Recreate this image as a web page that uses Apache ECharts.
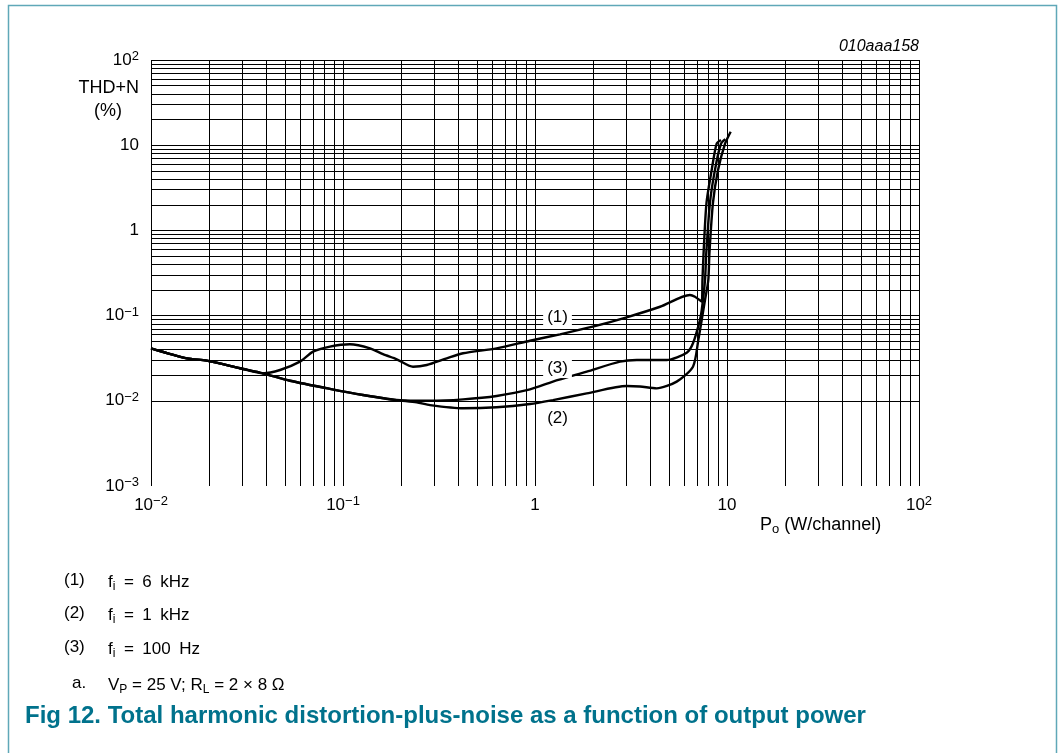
<!DOCTYPE html>
<html>
<head>
<meta charset="utf-8">
<script src="https://cdn.jsdelivr.net/npm/echarts@6/dist/echarts.min.js"></script>
<style>
html,body{margin:0;padding:0;background:#fff;}
#chart{width:1063px;height:753px;}
</style>
</head>
<body>
<div id="chart"></div>
<script>
// ---- data ----
const xTickValues = [0.01, 0.1, 1, 10, 100];
const xTickLabels = ['10^−2', '10^−1', '1', '10', '10^2'];
const yTickValues = [0.001, 0.01, 0.1, 1, 10, 100];
const yTickLabels = ['10^−3', '10^−2', '10^−1', '1', '10', '10^2'];
const gridMultipliers = [1, 2, 3, 4, 5, 6, 7, 8, 9];
const xDecades = [0.01, 0.1, 1, 10];
const yDecades = [0.001, 0.01, 0.1, 1, 10];

// (1) fi = 6 kHz
const curve1X = [0.01, 0.0154, 0.0195, 0.0291, 0.0383, 0.047, 0.0597, 0.0698, 0.0855, 0.1086, 0.1383, 0.1616, 0.1905, 0.2315, 0.273, 0.347, 0.422, 0.631, 0.942, 1.35, 2.0, 3.0, 4.48, 6.41, 6.81, 7.38, 7.45, 7.55, 7.82, 8.32, 8.83, 9.3];
const curve1Y = [0.0413, 0.0315, 0.0296, 0.0241, 0.021, 0.023, 0.0288, 0.0377, 0.0432, 0.0461, 0.0413, 0.0352, 0.0307, 0.0251, 0.0263, 0.0315, 0.0361, 0.0413, 0.0507, 0.0603, 0.0741, 0.0955, 0.127, 0.1746, 0.1667, 0.146, 0.26, 0.54, 2.1, 5.1, 10.4, 11.5];
// (2) fi = 1 kHz
const curve2X = [0.01, 0.0154, 0.0195, 0.0291, 0.0383, 0.053, 0.0855, 0.127, 0.19, 0.242, 0.284, 0.422, 0.631, 0.942, 1.24, 1.86, 3.0, 3.52, 4.3, 5.47, 6.65, 7.09, 7.68, 7.99, 8.1, 8.45, 8.98, 9.77, 10.45];
const curve2Y = [0.0413, 0.0315, 0.0296, 0.0241, 0.021, 0.0172, 0.0138, 0.0117, 0.0102, 0.0096, 0.0089, 0.00817, 0.00839, 0.00916, 0.0102, 0.0122, 0.0149, 0.0147, 0.014, 0.0168, 0.0251, 0.0518, 0.152, 0.26, 0.54, 2.1, 5.1, 10.4, 14.4];
// (3) fi = 100 Hz
const curve3X = [0.01, 0.0154, 0.0195, 0.0291, 0.0383, 0.053, 0.0855, 0.127, 0.19, 0.242, 0.284, 0.422, 0.631, 0.942, 1.24, 1.86, 2.77, 3.39, 4.85, 6.17, 6.65, 7.23, 7.4, 7.68, 7.8, 8.15, 8.65, 9.3, 9.8];
const curve3Y = [0.0413, 0.0315, 0.0296, 0.0241, 0.021, 0.0172, 0.0138, 0.0117, 0.0102, 0.0100, 0.0100, 0.0104, 0.0114, 0.0136, 0.0168, 0.022, 0.0288, 0.0301, 0.0301, 0.0367, 0.0473, 0.0888, 0.12, 0.26, 0.54, 2.1, 5.1, 10.4, 11.8];

// curve identification tags on the plot
const tagText = ['(1)', '(3)', '(2)'];
const tagX = [1.31, 1.31, 1.31];
const tagY = [0.095, 0.0239, 0.00628];

const notes = ['(1)', '(2)', '(3)'];
const noteTexts = ['f{sub|i}\u2002=\u20026\u2002kHz', 'f{sub|i}\u2002=\u20021\u2002kHz', 'f{sub|i}\u2002=\u2002100\u2002Hz'];
const conditionText = 'V{sub|P} = 25 V; R{sub|L} = 2 × 8 Ω';
const figTitle = 'Fig 12. Total harmonic distortion-plus-noise as a function of output power';
const docCode = '010aaa158';

// ---- build ----
const FONT = '"Liberation Sans", Arial, sans-serif';
const zip = (xs, ys) => xs.map((x, i) => [x, ys[i]]);
function tickRich(labels, values) {
  return function (v) {
    let best = 0;
    for (let i = 0; i < values.length; i++) {
      if (Math.abs(Math.log10(values[i]) - Math.log10(v)) < Math.abs(Math.log10(values[best]) - Math.log10(v))) best = i;
    }
    const s = labels[best];
    const p = s.split('^');
    return p.length > 1 ? '{b|' + p[0] + '}{s|' + p[1] + '}' : '{b|' + s + '}';
  };
}
const richTick = {
  b: { fontSize: 17, lineHeight: 20, fontFamily: FONT, color: '#000' },
  s: { fontSize: 13, lineHeight: 12, verticalAlign: 'top', fontFamily: FONT, color: '#000' }
};
const xGrid = [];
xDecades.forEach(d => gridMultipliers.forEach(m => xGrid.push(+(d * m).toPrecision(3))));
xGrid.push(100);
const yGrid = [];
yDecades.forEach(d => gridMultipliers.forEach(m => yGrid.push(+(d * m).toPrecision(3))));
yGrid.push(100);

const chart = echarts.init(document.getElementById('chart'), null, { renderer: 'canvas' });
const curveStyle = { color: '#000', width: 2.4 };
function subRich(fs) {
  return {
    n: { fontSize: fs, fontFamily: FONT, fill: '#000', lineHeight: fs + 4 },
    sub: { fontSize: Math.round(fs * 0.7), fontFamily: FONT, fill: '#000', lineHeight: Math.round(fs * 0.7), verticalAlign: 'bottom' }
  };
}
const wrapN = s => s.replace(/(^|\})([^{}]+?)(\{|$)/g, (m, a, t, b) => a + '{n|' + t + '}' + b);
const graphics = [
  { type: 'polyline', silent: true, shape: { points: [[8.5, 753], [8.5, 5.5], [1056.5, 5.5], [1056.5, 753]] }, style: { stroke: '#5fa8b8', lineWidth: 1.5, fill: null } },
  { type: 'text', x: 139, y: 88, style: { text: 'THD+N', font: '18px ' + FONT, fill: '#000', align: 'right', verticalAlign: 'middle' } },
  { type: 'text', x: 108, y: 111, style: { text: '(%)', font: '18px ' + FONT, fill: '#000', align: 'center', verticalAlign: 'middle' } },
  { type: 'text', x: 919, y: 47, style: { text: docCode, font: 'italic 16px ' + FONT, fill: '#000', align: 'right', verticalAlign: 'middle' } },
  { type: 'text', x: 760, y: 525, style: { text: wrapN('P{sub|o} (W/channel)'), rich: subRich(18), align: 'left', verticalAlign: 'middle' } },
  { type: 'text', x: 25, y: 716, style: { text: figTitle, font: 'bold 24px ' + FONT, fill: '#00728c', align: 'left', verticalAlign: 'middle' } },
  { type: 'text', x: 72, y: 683, style: { text: 'a.', font: '17px ' + FONT, fill: '#000', align: 'left', verticalAlign: 'middle' } },
  { type: 'text', x: 108, y: 685, style: { text: wrapN(conditionText), rich: subRich(17), align: 'left', verticalAlign: 'middle' } }
];
const noteY = [580, 613, 647];
notes.forEach((n, i) => {
  graphics.push({ type: 'text', x: 64, y: noteY[i], style: { text: n, font: '17px ' + FONT, fill: '#000', align: 'left', verticalAlign: 'middle' } });
  graphics.push({ type: 'text', x: 108, y: noteY[i] + 2, style: { text: wrapN(noteTexts[i]), rich: subRich(17), align: 'left', verticalAlign: 'middle' } });
});

chart.setOption({
  animation: false,
  backgroundColor: '#fff',
  grid: { left: 151, top: 60, width: 768, height: 426, containLabel: false },
  xAxis: {
    type: 'log', logBase: 10, min: 0.01, max: 100, splitNumber: 4,
    axisLine: { show: false }, axisTick: { show: false }, splitLine: { show: false },
    axisLabel: { margin: 9, formatter: tickRich(xTickLabels, xTickValues), rich: richTick, showMinLabel: true, showMaxLabel: true }
  },
  yAxis: {
    type: 'log', logBase: 10, min: 0.001, max: 100, splitNumber: 5,
    axisLine: { show: false }, axisTick: { show: false }, splitLine: { show: false },
    axisLabel: { margin: 12, formatter: tickRich(yTickLabels, yTickValues), rich: richTick, showMinLabel: true, showMaxLabel: true }
  },
  graphic: graphics,
  series: [
    {
      type: 'line', data: [], z: 1, silent: true,
      markLine: {
        silent: true, z: 1, symbol: ['none', 'none'], animation: false,
        label: { show: false },
        lineStyle: { color: '#000', width: 1, type: 'solid', opacity: 1 },
        emphasis: { disabled: true },
        data: xGrid.map(v => ({ xAxis: v })).concat(yGrid.map(v => ({ yAxis: v })))
      }
    },
    { name: '(1)', type: 'line', z: 3, data: zip(curve1X, curve1Y), showSymbol: false, smooth: 0.25, lineStyle: curveStyle },
    { name: '(2)', type: 'line', z: 3, data: zip(curve2X, curve2Y), showSymbol: false, smooth: 0.25, lineStyle: curveStyle },
    { name: '(3)', type: 'line', z: 3, data: zip(curve3X, curve3Y), showSymbol: false, smooth: 0.25, lineStyle: curveStyle },
    {
      type: 'scatter', z: 10, silent: true, symbolSize: 1, itemStyle: { color: '#fff', opacity: 1 },
      data: tagText.map((t, i) => ({ value: [tagX[i], tagY[i]], name: t })),
      label: { show: true, position: 'inside', formatter: p => p.name, fontSize: 17, fontFamily: FONT, color: '#000', opacity: 1, textBorderWidth: 0, backgroundColor: '#fff', padding: [1, 4] }
    }
  ]
});
</script>
</body>
</html>
